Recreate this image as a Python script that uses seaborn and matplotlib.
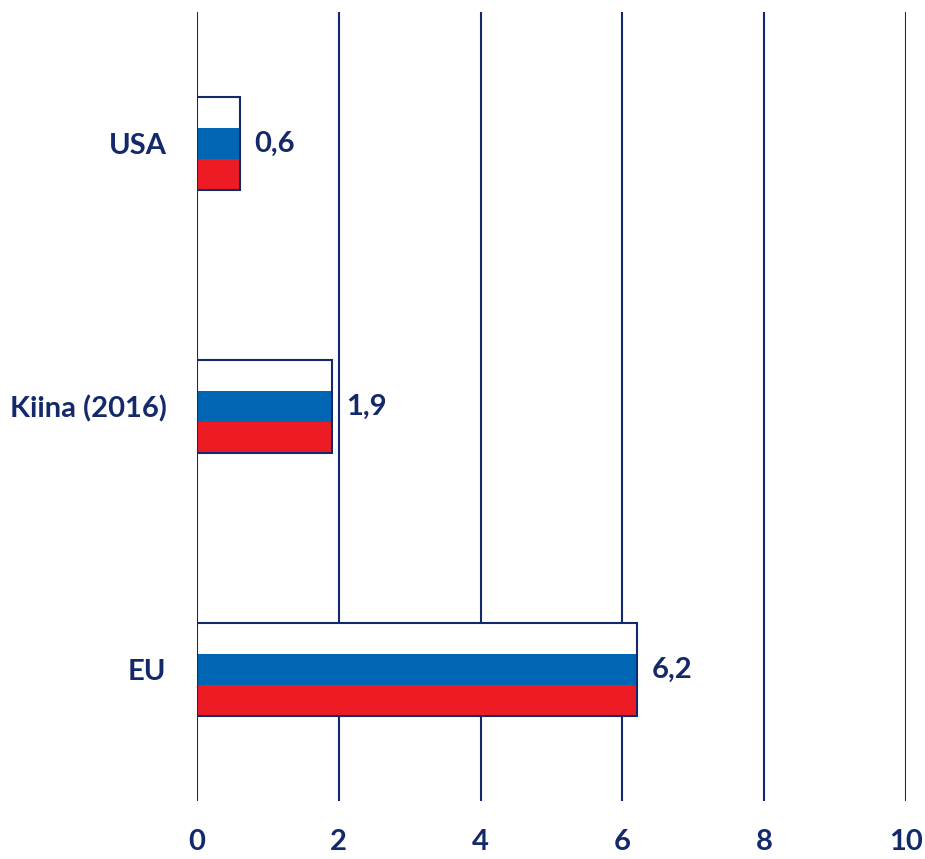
import matplotlib
matplotlib.use('Agg')
import matplotlib.pyplot as plt
import pandas as pd
import seaborn as sns

# --- data ---
countries = ['USA', 'Kiina (2016)', 'EU']
values = [0.6, 1.9, 6.2]
value_labels = ['0,6', '1,9', '6,2']
stripes = ['valk', 'sin', 'pun']
stripe_colors = ['#FFFFFF', '#0066B3', '#ED1C24']
x_ticks = [0, 2, 4, 6, 8, 10]

NAVY = '#13296B'

sns.set_theme(style='white')
plt.rcParams['font.family'] = ['Lato', 'DejaVu Sans']

rows = []
for c, v in zip(countries, values):
    for s in stripes:
        rows.append({'country': c, 'value': v, 'stripe': s})
df = pd.DataFrame(rows)

fig = plt.figure(figsize=(9.25, 8.59), dpi=100)
ax = fig.add_axes([0.213, 0.0675, 0.7665, 0.9185])

# vertical grid lines
for t in x_ticks:
    ax.axvline(t, color=NAVY, lw=1.5, zorder=0)

# flag-striped bars (hue splits each bar into three stripes)
sns.barplot(data=df, y='country', x='value', hue='stripe', order=countries,
            hue_order=stripes, palette=stripe_colors, saturation=1, orient='h',
            width=0.355, dodge=True, gap=0, linewidth=0, legend=False,
            ax=ax, zorder=2)

# outline around each whole bar
ax.barh(range(len(countries)), values, height=0.355, fill=False,
        edgecolor=NAVY, linewidth=1.5, zorder=3)

for i, (v, lab) in enumerate(zip(values, value_labels)):
    ax.text(v + 0.21, i, lab, va='center', ha='left', fontsize=21,
            fontweight='bold', color=NAVY)

ax.set_xlim(0, 10)
ax.set_ylim(2.5, -0.5)
ax.set_xticks(x_ticks)
ax.set_xticklabels([str(t) for t in x_ticks])
ax.set_xlabel('')
ax.set_ylabel('')
for sp in ax.spines.values():
    sp.set_visible(False)
ax.tick_params(axis='x', length=0, pad=20, labelsize=21, labelcolor=NAVY)
ax.tick_params(axis='y', length=0, pad=22, labelsize=21, labelcolor=NAVY)
for lbl in ax.get_xticklabels() + ax.get_yticklabels():
    lbl.set_fontweight('bold')

fig.savefig('out.png', dpi=100)
